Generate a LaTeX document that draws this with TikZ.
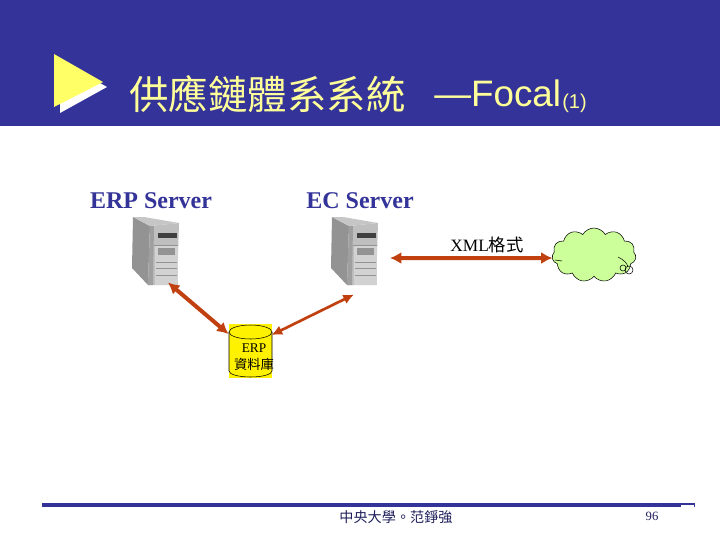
\documentclass[tikz,border=0pt]{standalone}
\usepackage{fontspec}
\usepackage{tikz}
\usetikzlibrary{arrows.meta,shapes.symbols}
\setmainfont{Liberation Serif}
\newfontfamily\cjk{Noto Sans CJK TC}
\newfontfamily\headfont{Liberation Sans}
\definecolor{navy}{HTML}{333399}
\definecolor{paleyellow}{HTML}{FFFF99}
\definecolor{arrowyellow}{HTML}{FFFF66}
\definecolor{linkred}{HTML}{C0400F}
\definecolor{cloudgreen}{HTML}{CCFF99}
\tikzset{
  server/.pic={
    \fill[gray!85] (-23,-34) -- (-6,-25) -- (-8,34) -- (-24,17) -- cycle;
    \fill[gray!45] (-23,-34) -- (-12,-34) -- (23,-28) -- (-6,-25) -- cycle;
    \fill[gray!50] (-6,-25) -- (23,-28) -- (21,34) -- (-8,34) -- cycle;
    \fill[gray!35] (-1,-6) rectangle (22,34);
    \fill[gray!75] (-6,-25) -- (-2,-25) -- (-3,34) -- (-8,34) -- cycle;
    \fill[black!75] (2,-18) rectangle (21,-13);
    \fill[gray!85] (2,-3) rectangle (19,4);
    \draw[gray!85,thin] (-2,-6) -- (22,-6) (0,11) -- (21,11) (0,17) -- (21,17) (0,24) -- (21,24);
  }
}
\begin{document}
\begin{tikzpicture}[x=0.75pt,y=-0.75pt,
  srvbox/.style={minimum width=36pt,minimum height=51.75pt,inner sep=0pt,outer sep=0pt},
  srvlabel/.style={text=navy,font=\bfseries\fontsize{18}{20}\selectfont},
  link/.style={{Latex[length=8.5pt,width=9pt]}-{Latex[length=8.5pt,width=9pt]},draw=linkred,line width=3pt},
  thinlink/.style={{Latex[length=8pt,width=7.5pt]}-{Latex[length=8pt,width=7.5pt]},draw=linkred,line width=2pt}]
\useasboundingbox (0,0) rectangle (720,540);
\fill[white] (0,0) rectangle (720,540);
\fill[navy] (0,0) rectangle (720,126);
\fill[white] (60,60) -- (107,87) -- (60,113) -- cycle;
\fill[arrowyellow] (54,54) -- (103,82) -- (54,107) -- cycle;
\node (title) [anchor=west,inner sep=0pt,text=paleyellow,font=\cjk\fontsize{29.6}{32}\selectfont] at (129,94) {供應鏈體系系統};
\node (focal) [anchor=base west,inner sep=0pt,text=paleyellow,font=\headfont\fontsize{27.6}{30}\selectfont] at (434,106) {—Focal};
\node (part) [anchor=base west,inner sep=0pt,text=paleyellow,font=\headfont\fontsize{15}{17}\selectfont] at (562,108) {(1)};
\node (erplabel) [srvlabel] at (151,201) {ERP Server};
\node (eclabel) [srvlabel] at (360,201) {EC Server};
\node (erpsrv) [srvbox] at (156,251) {};
\node (ecsrv) [srvbox] at (355,251) {};
\pic at (erpsrv) {server};
\pic at (ecsrv) {server};
\node (erpdb) [fill=yellow,minimum width=32.25pt,minimum height=40.5pt,inner sep=0pt,outer sep=0pt] at (250,351) {};
\draw[fill=yellow] (229,332) -- (229,371) arc[start angle=180,end angle=0,x radius=21.5,y radius=6] -- (272,332);
\draw[fill=yellow] (250.5,332) ellipse[x radius=21.5,y radius=7];
\node (erptext) [align=center,inner sep=0pt,font=\fontsize{10}{13}\selectfont] at (254,357) {ERP\\{\cjk 資料庫}};
\node (cloud) [cloud,cloud puffs=11,cloud puff arc=120,aspect=1.6,draw,fill=cloudgreen,minimum width=63pt,minimum height=40.5pt,inner sep=0pt,outer sep=0pt] at (594,255) {};
\draw (555,260) -- (562,261);
\draw (618,257) .. controls (624,260) and (627,263) .. (628,267);
\node (dota) [circle,draw,thin,minimum size=4.5pt,inner sep=0pt] at (623,268) {};
\node (dotb) [circle,draw,thin,minimum size=6pt,inner sep=0pt] at (629,270) {};
\node (xmltext) [inner sep=0pt,font=\fontsize{13}{15}\selectfont] at (487,245) {XML{\cjk 格式}};
\draw[link] ([shift={(12,-3)}]erpsrv.south) -- (erpdb.west |- 0,334);
\draw[thinlink] (erpdb.east |- 0,335) -- ([shift={(-1,9)}]ecsrv.south);
\draw[link] ([shift={(11,7)}]ecsrv.east) -- ([yshift=-3*0.75pt]cloud.west);
\fill[navy] (42,503) rectangle (695,507);
\fill[white] (681,505) rectangle (694,507);
\node (footer) [inner sep=0pt,text=navy!60!black,font=\cjk\fontsize{10.6}{14}\selectfont] at (396,517) {中央大學。范錚強};
\node (pageno) [inner sep=0pt,text=navy!60!black,font=\fontsize{9.5}{12}\selectfont] at (652,516) {96};
\end{tikzpicture}
\end{document}
